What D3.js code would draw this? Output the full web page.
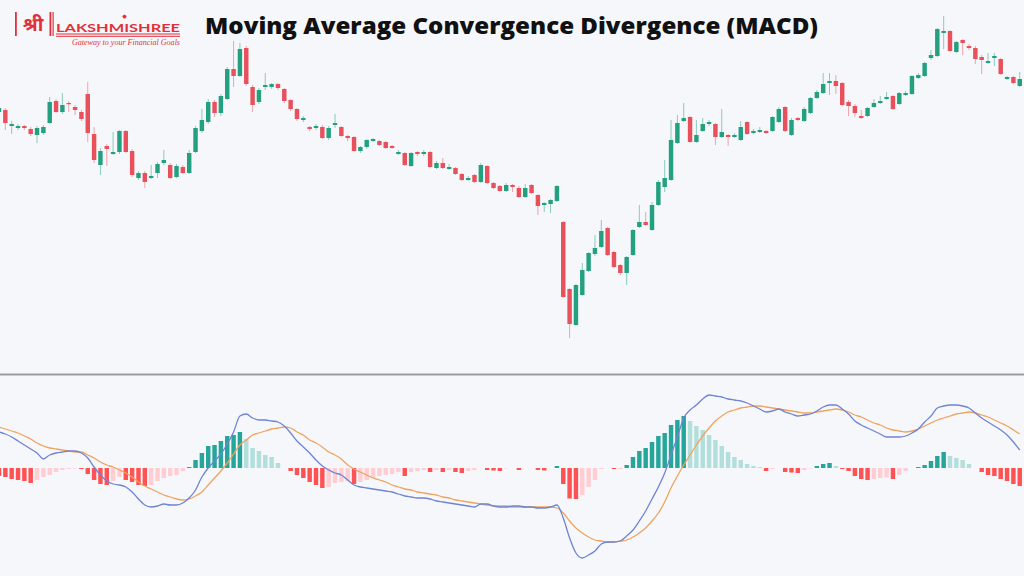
<!DOCTYPE html>
<html><head><meta charset="utf-8">
<script src="https://cdn.jsdelivr.net/npm/d3@7"></script>
<style>
html,body{margin:0;padding:0;background:#f6f7fb;}
svg{display:block;}
</style></head><body>
<svg id="chart" width="1024" height="576"></svg>
<script>
// ---- DATA (price candles) ----
const open = [288,290,274,272,274,271,265,267,277,299, 288,297,293,288,306,266,235,254,246,248, 269,249,222,227,222,227,237,235,223,233, 227,248,269,278,298,287,301,331,324,352, 313,298,313,313,316,311,300,291,280,273, 272,273,262,275,273,264,263,249,253,259, 259,258,254,246,247,234,248,246,248,232, 237,231,232,226,220,225,218,234,217,214, 209,215,212,203,215,205,195,196,199,178, 111,75,105,129,146,153,172,148,135,127, 145,173,178,170,195,213,220,257,279,283, 258,269,276,276,263,265,263,260,278,267, 268,269,269,278,293,265,282,279,287,302, 307,317,319,317,298,294,284,284,293,297, 301,304,296,305,306,322,324,342,344,367, 369,348,360,354,352,343,337,342,341,321, 323,314];
const high = [295,292,279,276,275,273,274,275,303,301, 307,299,295,290,318,273,252,256,268,270, 270,251,229,229,235,238,250,237,236,235, 250,274,291,301,300,306,333,359,357,354, 315,312,327,317,317,312,301,292,284,274, 276,275,274,286,274,265,264,254,261,262, 260,259,255,250,248,248,249,250,249,239, 242,236,233,227,224,226,237,235,218,215, 217,216,214,216,216,206,198,201,215,179, 112,116,137,148,165,180,173,149,136,144, 171,195,188,198,220,240,280,285,297,284, 280,282,280,277,291,266,267,279,279,271, 273,270,284,293,294,282,283,293,303,310, 327,327,325,318,300,296,290,293,301,304, 308,305,308,309,325,327,338,350,372,384, 370,359,361,356,354,345,347,347,342,324, 324,328];
const low = [285,270,266,270,270,264,257,265,276,287, 286,288,285,279,258,237,225,234,245,246, 247,223,220,212,221,222,235,221,222,226, 226,247,267,276,283,284,300,313,323,314, 288,296,310,311,310,297,289,279,278,269, 270,261,260,272,263,259,248,247,251,258, 254,251,251,245,234,233,244,244,232,231, 231,230,225,219,219,217,217,216,211,208, 208,208,202,202,206,185,188,187,198,102, 62,74,104,128,144,152,144,132,125,115, 144,172,174,169,194,208,219,256,278,257, 257,268,274,255,262,254,262,259,265,266, 267,266,268,277,268,264,279,278,286,301, 306,305,306,294,284,283,281,283,292,296, 300,290,295,304,305,321,323,340,343,351, 348,347,345,350,336,326,336,334,325,320, 316,313];
const close = [292,277,276,274,272,266,272,273,298,288, 295,296,290,281,267,240,249,251,248,269, 248,225,227,218,224,236,240,222,234,227, 247,272,280,298,287,304,331,324,351,316, 295,310,315,316,312,299,291,281,282,271, 274,262,272,277,264,262,249,253,260,261, 255,252,252,248,235,247,246,248,233,237, 232,233,226,220,222,218,235,217,212,209, 215,213,203,212,207,194,197,200,214,103, 76,115,130,147,152,169,145,133,127,143, 170,178,175,195,218,222,260,277,282,258, 265,276,278,263,268,263,265,273,266,269, 270,267,283,291,269,280,280,291,302,308, 316,319,314,295,294,287,282,292,297,299, 303,291,307,307,324,325,337,345,371,369, 349,358,357,352,341,340,339,344,326,323, 317,321];

// ---- DATA (MACD panel) ----
const macd = [3.6,3.4,3.1,2.7,2.3,1.9,1.5,0.9,1.3,1.5, 1.6,1.7,1.7,1.5,1.0,0.1,-0.7,-1.3,-1.6,-1.7, -1.9,-2.4,-3.1,-3.7,-3.9,-3.8,-3.6,-3.7,-3.7,-3.5, -3.0,-2.2,-0.9,0.0,0.7,1.4,2.4,3.6,5.2,5.4, 5.0,4.8,4.8,4.7,4.6,4.2,3.5,2.7,2.1,1.5, 0.8,0.2,-0.2,-0.5,-0.7,-1.2,-1.7,-1.9,-2.0,-2.1, -2.2,-2.3,-2.4,-2.6,-2.8,-2.9,-3.0,-3.0,-3.1,-3.3, -3.4,-3.5,-3.6,-3.7,-3.8,-3.9,-3.6,-3.6,-3.8,-3.9, -3.9,-3.8,-3.8,-3.9,-3.9,-4.0,-4.0,-3.9,-3.7,-5.0, -7.0,-8.5,-9.0,-8.7,-8.3,-7.6,-7.4,-7.4,-7.3,-6.8, -6.2,-5.3,-4.3,-3.1,-1.9,-0.5,1.3,3.1,5.0,5.8, 6.3,6.9,7.3,7.2,7.1,6.9,6.8,6.7,6.5,6.2, 5.9,5.6,5.7,5.9,5.6,5.4,5.2,5.3,5.4,5.7, 6.1,6.3,6.3,5.9,5.4,4.7,4.3,4.0,3.7,3.4, 3.1,3.1,3.1,3.2,3.5,3.9,4.6,5.2,6.0,6.2, 6.3,6.3,6.2,6.0,5.5,5.0,4.6,4.2,3.8,3.3, 2.6,1.8];
const signal = [4.1,3.9,3.7,3.5,3.2,2.9,2.5,2.2,2.0,1.9, 1.8,1.7,1.6,1.6,1.3,1.0,0.6,0.3,0.1,-0.2, -0.5,-0.9,-1.4,-1.8,-2.1,-2.4,-2.7,-2.9,-3.1,-3.2, -3.1,-2.8,-2.4,-1.7,-1.0,-0.3,0.5,1.4,2.3,2.8, 3.3,3.5,3.7,3.9,4.0,4.1,4.0,3.6,3.3,2.8, 2.5,2.1,1.6,1.3,0.9,0.3,-0.1,-0.4,-0.7,-1.0, -1.2,-1.4,-1.7,-1.9,-2.1,-2.2,-2.4,-2.5,-2.6,-2.7, -2.9,-3.0,-3.2,-3.3,-3.4,-3.5,-3.6,-3.7,-3.8,-3.8, -3.8,-3.9,-3.9,-3.9,-3.9,-3.9,-3.9,-3.9,-4.0,-4.5, -5.3,-6.0,-6.5,-6.9,-7.2,-7.3,-7.4,-7.4,-7.3,-7.2, -6.9,-6.5,-6.0,-5.3,-4.5,-3.4,-2.0,-0.8,0.3,1.3, 2.3,3.2,4.0,4.7,5.2,5.6,5.8,6.0,6.1,6.2, 6.2,6.1,6.0,5.9,5.8,5.7,5.6,5.5,5.5,5.6, 5.7,5.8,5.9,5.8,5.6,5.3,5.1,4.8,4.5,4.3, 4.0,3.8,3.7,3.6,3.7,3.9,4.2,4.5,4.8,5.0, 5.2,5.4,5.5,5.6,5.5,5.3,5.1,4.8,4.5,4.2, 3.8,3.4];
const hist = [-0.8,-0.9,-1.1,-1.2,-1.3,-1.5,-1.2,-0.9,-0.7,-0.4, -0.2,-0.1,-0.05,-0.1,-0.6,-1.2,-1.6,-1.7,-1.3,-0.9, -1.2,-1.4,-1.7,-1.8,-1.7,-1.3,-1.0,-0.8,-0.7,-0.3, 0.1,0.8,1.5,2.2,2.3,2.7,3.2,3.3,3.6,2.9, 2.0,1.7,1.3,1.1,0.5,0.0,-0.3,-0.7,-1.0,-1.4, -1.7,-2.0,-1.9,-1.5,-1.4,-1.3,-1.6,-1.4,-1.2,-1.0, -0.8,-0.7,-0.6,-0.4,-0.8,-0.4,-0.3,-0.2,-0.4,-0.2, -0.4,-0.2,-0.4,-0.5,-0.3,-0.2,0.0,-0.2,-0.25,-0.3, -0.05,0.0,-0.2,0.0,0.0,-0.2,-0.25,0.0,0.2,-1.6, -3.05,-3.1,-2.7,-1.9,-1.2,-0.1,0.0,-0.1,-0.1,0.3, 1.1,1.7,2.0,2.6,3.2,3.5,4.3,4.8,5.2,4.7, 4.2,3.8,3.3,2.8,2.2,1.6,1.1,0.8,0.4,0.2, 0.1,-0.3,-0.1,0.0,-0.4,-0.45,-0.5,-0.2,-0.05,0.2, 0.4,0.5,0.2,-0.1,-0.3,-0.8,-1.1,-1.2,-1.1,-1.0, -0.95,-1.1,-0.7,-0.3,0.0,0.1,0.3,0.7,1.2,1.6, 1.2,1.0,0.8,0.4,0.0,-0.4,-0.7,-0.8,-1.1,-1.3, -1.6,-1.8];

const titleText = "Moving Average Convergence Divergence (MACD)";
const brandMark = "श्री";
const brandName = "LAKSHMISHREE";
const brandTag = "Gateway to your Financial Goals";

// ---- RENDER ----
const svg = d3.select("#chart");
const W = 1024, H = 576;
const N = close.length;
const idx = d3.range(N);

svg.append("rect").attr("width", W).attr("height", H).attr("fill", "#f6f7fb");

const x = d3.scaleBand().domain(idx).range([-4.17, -4.17 + N * 6.34]).paddingInner(0.3).paddingOuter(0.15);
const cx = i => x(i) + x.bandwidth() / 2;
const yP = d3.scaleLinear().domain([0, 400]).range([400, 0]);
const yM = d3.scaleLinear().domain([-10, 10]).range([568, 368]);

const GREEN = "#22a07f", RED = "#e8505b";

// candles
const cg = svg.append("g");
const c = cg.selectAll("g").data(idx).join("g");
c.append("line")
  .attr("x1", cx).attr("x2", cx)
  .attr("y1", i => yP(high[i])).attr("y2", i => yP(low[i]))
  .attr("stroke", i => close[i] >= open[i] ? GREEN : RED)
  .attr("stroke-opacity", 0.5).attr("stroke-width", 1);
c.append("rect")
  .attr("x", i => x(i)).attr("width", x.bandwidth())
  .attr("y", i => yP(Math.max(open[i], close[i])))
  .attr("height", i => Math.max(1.2, Math.abs(yP(open[i]) - yP(close[i]))))
  .attr("fill", i => close[i] >= open[i] ? GREEN : RED);

// separator
svg.append("line").attr("x1", 0).attr("x2", W).attr("y1", 374.5).attr("y2", 374.5)
  .attr("stroke", "#9c9c9c").attr("stroke-width", 2);

// histogram
function histColor(i) {
  const v = hist[i], p = i > 0 ? hist[i - 1] : 0;
  if (v >= 0) return v >= p ? "#26a69a" : "#b2dfdb";
  return v < p ? "#ff5252" : "#ffcdd2";
}
svg.append("g").selectAll("rect").data(idx).join("rect")
  .attr("x", i => x(i)).attr("width", x.bandwidth())
  .attr("y", i => yM(Math.max(0, hist[i])))
  .attr("height", i => Math.abs(yM(hist[i]) - yM(0)))
  .attr("fill", histColor);

// lines
const lineGen = arr => d3.line().x(i => cx(i)).y(i => yM(arr[i])).curve(d3.curveMonotoneX)(idx);
svg.append("path").attr("d", lineGen(signal)).attr("fill", "none")
  .attr("stroke", "#f0a35e").attr("stroke-width", 1.3);
svg.append("path").attr("d", lineGen(macd)).attr("fill", "none")
  .attr("stroke", "#6f84d4").attr("stroke-width", 1.3);

// title
svg.append("text").attr("x", 205).attr("y", 34)
  .attr("font-family", "'Open Sans', Lato, sans-serif").attr("font-weight", 800)
  .attr("font-size", 23).attr("fill", "#111")
  .attr("textLength", 613).attr("lengthAdjust", "spacingAndGlyphs").text(titleText);

// logo
const LR = "#e0313b";
const logo = svg.append("g");
logo.append("rect").attr("x", 15).attr("y", 12).attr("width", 1.8).attr("height", 24).attr("fill", LR);
logo.append("rect").attr("x", 49.5).attr("y", 12).attr("width", 1.8).attr("height", 24).attr("fill", LR);
logo.append("rect").attr("x", 52.5).attr("y", 12).attr("width", 1.2).attr("height", 24).attr("fill", LR);
logo.append("text").attr("x", 33).attr("y", 31).attr("text-anchor", "middle")
  .attr("font-family", "'Noto Sans Devanagari','Noto Sans','DejaVu Sans',sans-serif")
  .attr("font-weight", 700).attr("font-size", 19).attr("fill", LR).text(brandMark);
logo.append("text").attr("x", 56).attr("y", 32)
  .attr("font-family", "Lato, 'Open Sans', sans-serif").attr("font-weight", 700)
  .attr("font-size", 12).attr("fill", LR)
  .attr("textLength", 124).attr("lengthAdjust", "spacingAndGlyphs").text(brandName);
logo.append("rect").attr("x", 56).attr("y", 33.5).attr("width", 124).attr("height", 1).attr("fill", LR);
logo.append("rect").attr("x", 56).attr("y", 35.8).attr("width", 124).attr("height", 1).attr("fill", LR);
logo.append("text").attr("x", 124.5).attr("y", 18.5).attr("text-anchor", "middle")
  .attr("font-family", "'DejaVu Sans',sans-serif").attr("font-size", 6.5).attr("fill", LR).text("✸");
logo.append("text").attr("x", 72).attr("y", 45)
  .attr("font-family", "'Liberation Serif','DejaVu Serif',serif").attr("font-style", "italic")
  .attr("font-size", 8).attr("fill", LR)
  .attr("textLength", 108).attr("lengthAdjust", "spacingAndGlyphs").text(brandTag);
</script>
</body></html>
